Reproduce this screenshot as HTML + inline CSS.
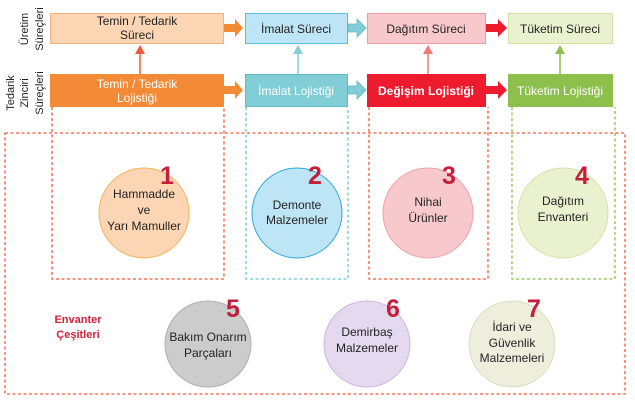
<!DOCTYPE html>
<html><head><meta charset="utf-8"><style>
html,body{margin:0;padding:0;background:#fff;}
svg{display:block;font-family:"Liberation Sans",sans-serif;}
</style></head><body>
<svg width="635" height="401" viewBox="0 0 635 401" xmlns="http://www.w3.org/2000/svg">
<!-- side labels -->
<g font-size="11" fill="#222" text-anchor="middle">
<text transform="translate(28,29) rotate(-90)">Üretim</text>
<text transform="translate(43,29) rotate(-90)">Süreçleri</text>
<text transform="translate(14,93) rotate(-90)">Tedarik</text>
<text transform="translate(28,93) rotate(-90)">Zinciri</text>
<text transform="translate(43,93) rotate(-90)">Süreçleri</text>
</g>
<!-- top boxes -->
<rect x="50.5" y="13.5" width="173" height="30" fill="#fcd5b4" stroke="#f4b07a"/>
<rect x="245.5" y="13.5" width="102" height="30" fill="#bde5f5" stroke="#5bbde0"/>
<rect x="367.5" y="13.5" width="118" height="30" fill="#f8c9cc" stroke="#f29aa0"/>
<rect x="508.5" y="13.5" width="104" height="30" fill="#eaf1cf" stroke="#d4e3a8"/>
<g font-size="12" fill="#222" text-anchor="middle">
<text x="137" y="25">Temin / Tedarik</text>
<text x="137" y="39">Süreci</text>
<text x="296" y="33">İmalat Süreci</text>
<text x="426" y="33">Dağıtım Süreci</text>
<text x="560" y="33">Tüketim Süreci</text>
</g>
<!-- bottom boxes -->
<rect x="50" y="74" width="174" height="33" fill="#f28a36"/>
<rect x="245.5" y="74.5" width="102" height="32" fill="#82ced6" stroke="#5bbcc8"/>
<rect x="367" y="74" width="119" height="33" fill="#ec1c2e"/>
<rect x="508" y="74" width="105" height="33" fill="#8dbf4c"/>
<g font-size="12" fill="#fff" text-anchor="middle" font-weight="bold">
<text x="137" y="88" font-weight="normal">Temin / Tedarik</text>
<text x="137" y="102" font-weight="normal">Lojistiği</text>
<text x="296" y="95" font-weight="normal">İmalat Lojistiği</text>
<text x="426" y="95">Değişim Lojistiği</text>
<text x="560" y="95" font-weight="normal">Tüketim Lojistiği</text>
</g>
<!-- horizontal arrows -->
<g>
<polygon points="224,24 235,24 235,19 243,28 235,37 235,32 224,32" fill="#f28a36"/>
<polygon points="224,86 235,86 235,81 243,90 235,99 235,94 224,94" fill="#f28a36"/>
<polygon points="348,24 357,24 357,19 366,28 357,37 357,32 348,32" fill="#82ced6" stroke="#5bbcc8" stroke-width="0.8"/>
<polygon points="348,86 357,86 357,81 366,90 357,99 357,94 348,94" fill="#82ced6" stroke="#5bbcc8" stroke-width="0.8"/>
<polygon points="486,24 498,24 498,19 507,28 498,37 498,32 486,32" fill="#ec1c2e"/>
<polygon points="486,86 498,86 498,81 507,90 498,99 498,94 486,94" fill="#ec1c2e"/>
</g>
<!-- vertical arrows -->
<g stroke-width="1.5">
<line x1="140" y1="74" x2="140" y2="50" stroke="#f05a3a"/><polygon points="135,54 140,45 145,54" fill="#f05a3a"/>
<line x1="298" y1="74" x2="298" y2="50" stroke="#82ced6"/><polygon points="293,54 298,45 303,54" fill="#82ced6"/>
<line x1="428" y1="74" x2="428" y2="50" stroke="#f07a7a"/><polygon points="423,54 428,45 433,54" fill="#f07a7a"/>
<line x1="560" y1="74" x2="560" y2="50" stroke="#8dbf4c"/><polygon points="555,54 560,45 565,54" fill="#8dbf4c"/>
</g>
<!-- dashed boxes -->
<g fill="none" stroke-width="1.3" stroke-dasharray="3,2.5">
<rect x="5" y="133" width="620" height="261" stroke="#f05a3a"/>
<path d="M52,107 V279 H224 V107" stroke="#f05a3a"/>
<path d="M246,107 V279 H348 V107" stroke="#6cc6d2"/>
<path d="M369,107 V279 H488 V107" stroke="#f05a3a"/>
<path d="M512,107 V279 H615 V107" stroke="#8dbf4c"/>
</g>
<!-- circles -->
<ellipse cx="144" cy="213" rx="45" ry="45" fill="#fcd5b4" stroke="#f9b25a"/>
<ellipse cx="297" cy="213" rx="45" ry="45" fill="#bde5f5" stroke="#2fa8dc"/>
<ellipse cx="428" cy="213" rx="45" ry="45" fill="#f8c9cc" stroke="#f2a0a8"/>
<ellipse cx="563" cy="213" rx="45" ry="45" fill="#eaf1cf" stroke="#d4e3a8"/>
<ellipse cx="208" cy="344" rx="43" ry="43" fill="#cbcccb" stroke="#b0b0b0"/>
<ellipse cx="367" cy="344" rx="43" ry="43" fill="#e4d9ee" stroke="#cbb9dc"/>
<ellipse cx="512" cy="344" rx="43" ry="43" fill="#eeeedd" stroke="#dddcbf"/>
<g font-size="12" fill="#222" text-anchor="middle">
<text x="144" y="198">Hammadde</text><text x="144" y="214">ve</text><text x="144" y="230">Yarı Mamuller</text>
<text x="297" y="209">Demonte</text><text x="297" y="224">Malzemeler</text>
<text x="428" y="206">Nihai</text><text x="428" y="222">Ürünler</text>
<text x="563" y="205">Dağıtım</text><text x="563" y="221">Envanteri</text>
<text x="208" y="341">Bakım Onarım</text><text x="208" y="357">Parçaları</text>
<text x="367" y="336">Demirbaş</text><text x="367" y="352">Malzemeler</text>
<text x="512" y="331">İdari ve</text><text x="512" y="347">Güvenlik</text><text x="512" y="362">Malzemeleri</text>
</g>
<g font-size="25" font-weight="bold" fill="#c41e3a">
<text x="160" y="184">1</text>
<text x="308" y="184">2</text>
<text x="442" y="184">3</text>
<text x="575" y="184">4</text>
<text x="226" y="317">5</text>
<text x="386" y="317">6</text>
<text x="527" y="317">7</text>
</g>
<g font-size="11" font-weight="bold" fill="#d4213a" text-anchor="middle">
<text x="78" y="323">Envanter</text>
<text x="78" y="338">Çeşitleri</text>
</g>
</svg>
</body></html>
